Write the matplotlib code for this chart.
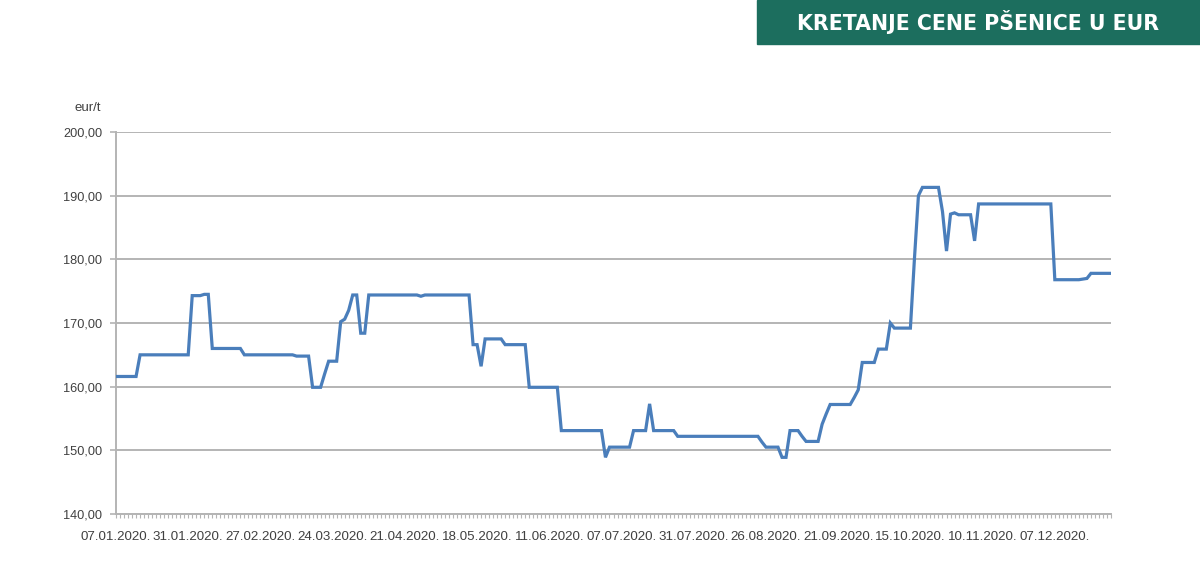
import matplotlib
matplotlib.use("Agg")
import matplotlib.pyplot as plt
from matplotlib.ticker import FuncFormatter, MultipleLocator, FixedLocator
from matplotlib.patches import Rectangle

# Wheat price, EUR/t, one value per trading day (07.01.2020 - end of Dec 2020)
prices = [
    161.6, 161.6, 161.6, 161.6, 161.6, 161.6, 165.0, 165.0, 165.0, 165.0, 165.0, 165.0, 165.0, 165.0, 165.0, 165.0, 165.0, 165.0,
    165.0, 174.3, 174.3, 174.3, 174.5, 174.5, 166.0, 166.0, 166.0, 166.0, 166.0, 166.0, 166.0, 166.0, 165.0, 165.0, 165.0, 165.0,
    165.0, 165.0, 165.0, 165.0, 165.0, 165.0, 165.0, 165.0, 165.0, 164.8, 164.8, 164.8, 164.8, 159.9, 159.9, 159.9, 162.0, 164.0,
    164.0, 164.0, 170.2, 170.6, 172.0, 174.4, 174.4, 168.4, 168.4, 174.4, 174.4, 174.4, 174.4, 174.4, 174.4, 174.4, 174.4, 174.4,
    174.4, 174.4, 174.4, 174.4, 174.2, 174.4, 174.4, 174.4, 174.4, 174.4, 174.4, 174.4, 174.4, 174.4, 174.4, 174.4, 174.4, 166.6,
    166.6, 163.2, 167.5, 167.5, 167.5, 167.5, 167.5, 166.6, 166.6, 166.6, 166.6, 166.6, 166.6, 159.9, 159.9, 159.9, 159.9, 159.9,
    159.9, 159.9, 159.9, 153.1, 153.1, 153.1, 153.1, 153.1, 153.1, 153.1, 153.1, 153.1, 153.1, 153.1, 148.9, 150.5, 150.5, 150.5,
    150.5, 150.5, 150.5, 153.1, 153.1, 153.1, 153.1, 157.3, 153.1, 153.1, 153.1, 153.1, 153.1, 153.1, 152.2, 152.2, 152.2, 152.2,
    152.2, 152.2, 152.2, 152.2, 152.2, 152.2, 152.2, 152.2, 152.2, 152.2, 152.2, 152.2, 152.2, 152.2, 152.2, 152.2, 152.2, 151.3,
    150.5, 150.5, 150.5, 150.5, 148.9, 148.9, 153.1, 153.1, 153.1, 152.2, 151.4, 151.4, 151.4, 151.4, 154.1, 155.7, 157.2, 157.2,
    157.2, 157.2, 157.2, 157.2, 158.3, 159.5, 163.8, 163.8, 163.8, 163.8, 165.9, 165.9, 165.9, 170.0, 169.2, 169.2, 169.2, 169.2,
    169.2, 180.0, 190.0, 191.3, 191.3, 191.3, 191.3, 191.3, 187.5, 181.3, 187.1, 187.3, 187.0, 187.0, 187.0, 187.0, 182.9, 188.7,
    188.7, 188.7, 188.7, 188.7, 188.7, 188.7, 188.7, 188.7, 188.7, 188.7, 188.7, 188.7, 188.7, 188.7, 188.7, 188.7, 188.7, 188.7,
    176.8, 176.8, 176.8, 176.8, 176.8, 176.8, 176.8, 176.9, 177.0, 177.8, 177.8, 177.8, 177.8, 177.8, 177.8,
]

tick_labels = ["07.01.2020.", "31.01.2020.", "27.02.2020.", "24.03.2020.", "21.04.2020.",
               "18.05.2020.", "11.06.2020.", "07.07.2020.", "31.07.2020.", "26.08.2020.",
               "21.09.2020.", "15.10.2020.", "10.11.2020.", "07.12.2020."]
label_step = 18

title = "KRETANJE CENE PŠENICE U EUR"
unit = "eur/t"

LINE = "#4a7ebb"
GRID = "#b4b4b4"
TXT = "#404040"
BANNER = "#1c6e5e"

fig = plt.figure(figsize=(12, 5.72), dpi=100)
W, H = 1200, 572
ax = fig.add_axes([116 / W, 1 - 514 / H, (1111 - 116) / W, (514 - 132) / H])

x = list(range(len(prices)))
ax.plot(x, prices, color=LINE, lw=2.3, solid_joinstyle="miter", zorder=3)

ax.set_xlim(0, len(prices) - 1)
ax.set_ylim(140, 200)
ax.yaxis.set_major_locator(MultipleLocator(10))
ax.yaxis.set_major_formatter(FuncFormatter(lambda v, p: f"{v:.2f}".replace(".", ",")))
ax.grid(axis="y", color=GRID, lw=1.4, zorder=1)
ax.set_axisbelow(True)

ax.xaxis.set_major_locator(FixedLocator([i * label_step for i in range(len(tick_labels))]))
ax.set_xticklabels(tick_labels)
ax.xaxis.set_minor_locator(FixedLocator(x))
ax.tick_params(axis="x", which="both", length=3, width=0.8, color=GRID, direction="out",
               pad=9, labelsize=9.6, labelcolor=TXT)
ax.tick_params(axis="y", which="major", length=4, width=1.2, color=GRID, pad=6,
               labelsize=9.2, labelcolor=TXT)
for t in ax.get_xticklabels() + ax.get_yticklabels():
    t.set_fontfamily("Liberation Sans")

for s in ["top", "right"]:
    ax.spines[s].set_visible(False)
ax.spines["left"].set_color(GRID)
ax.spines["left"].set_linewidth(1.4)
ax.spines["bottom"].set_color(GRID)
ax.spines["bottom"].set_linewidth(1.4)

fig.text(88 / W, 1 - 108 / H, unit, ha="center", va="center", fontsize=9.5,
         color=TXT, family="Liberation Sans")

fig.patches.append(Rectangle((757 / W, 1 - 44 / H), 1 - 757 / W, 44 / H,
                             transform=fig.transFigure, color=BANNER, zorder=0))
fig.text((757 + 1200) / 2 / W, 1 - 22 / H, title, ha="center", va="center",
         fontsize=14.8, color="white", fontweight="bold", family="DejaVu Sans")

fig.savefig("out.png", dpi=100, facecolor="white")
